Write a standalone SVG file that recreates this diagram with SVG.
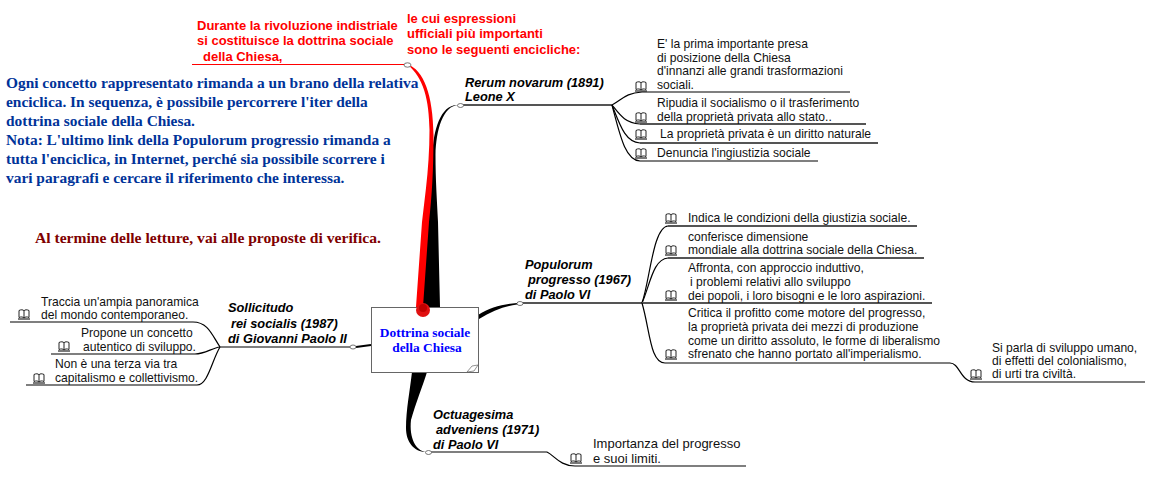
<svg xmlns="http://www.w3.org/2000/svg" width="1156" height="484" viewBox="0 0 1156 484">
<style>
text{font-family:"Liberation Sans",Arial,sans-serif;font-size:12.1px;fill:#111}
.b{font-size:12.8px;font-weight:bold;font-style:italic;fill:#000}
.r{font-size:13px;font-weight:bold;fill:#f00}
.s{font-family:"Liberation Serif","Times New Roman",serif;font-size:15.4px;font-weight:bold;fill:#003399}
.m{font-family:"Liberation Serif","Times New Roman",serif;font-size:15.6px;font-weight:bold;fill:#800000}
.c{font-family:"Liberation Serif","Times New Roman",serif;font-size:13.4px;font-weight:bold;fill:#0000ff;text-anchor:middle}
.l{fill:none;stroke:#000;stroke-width:1.2}
.g{fill:none;stroke:#555;stroke-width:1.8}
.n{fill:#fff;stroke:#555;stroke-width:.8}
.ic{fill:#fff;stroke:#222;stroke-width:1}
.big{font-size:13px}
</style>
<defs>
<g id="book"><path class="ic" d="M1 1.500C3 .5 5 .5 6 1.800C7 .5 9 .5 11 1.500V8.500C9 7.600 7 7.800 6 9C5 7.800 3 7.600 1 8.500ZM6 1.800V9"/><path d="M0 10H12" stroke="#222" stroke-width="1.200" fill="none"/></g>
</defs>
<rect width="1156" height="484" fill="#fff"/>
<g id="connectors">
<path d="M440 307L438 222C437 200 435.500 180 435.500 155C436 130 443 106 458 105C441 104 433 130 432.500 155L430 190L421 307Z" fill="#000"/>
<path d="M416 307L422 222L426 188C428 170 429.500 150 429.500 130C429 100 424 78 407 64C424 70 433 95 433.500 135C433.500 170 432 195 429 222L423 307Z" fill="#f00"/>
<path d="M192 64.500H404" fill="none" stroke="#f00" stroke-width="1.200"/>
<path d="M478 315C490 307 503 304 517 303V304.500C505 306 492 311 479 319Z" fill="#000"/>
<path d="M371 345L356 347" stroke="#000" stroke-width="2" fill="none"/>
<path d="M412 372H427C423 385 415 405 411 420C409 438 416 451 426 452C414 452 406 442 406 428C406 410 410 390 412 372Z" fill="#000"/>
<path class="g" d="M463 105H612"/>
<path class="g" d="M523 303H642"/>
<path class="l" d="M350 347H220"/>
<path class="l" d="M431 452H547"/>
<path class="l" d="M612 105C622 100 625 93 642 92H850"/>
<path class="g" d="M640 124H866"/>
<path class="l" d="M612 105C620 115 625 123 640 124"/>
<path class="g" d="M640 143H878"/>
<path class="l" d="M612 105C620 125 625 142 640 143"/>
<path class="l" d="M612 105C620 135 625 160 640 161H818"/>
<path class="g" d="M668 226H917"/>
<path class="l" d="M642 303C650 280 653 227 668 226"/>
<path class="g" d="M668 258H924"/>
<path class="l" d="M642 303C650 285 653 259 668 258"/>
<path class="g" d="M642 303H932"/>
<path class="l" d="M642 303C650 330 650 363 665 363H950C960 363 960 382 975 382H1145"/>
<path class="l" d="M220 347C212 335 208 322 193 322H10"/>
<path class="l" d="M220 347C212 348 205 354 195 354H51"/>
<path class="l" d="M220 347C212 360 208 385 197 385H26"/>
<path class="l" d="M547 452C555 456 560 466 575 466H746"/>
<ellipse class="n" cx="407.500" cy="65" rx="3.500" ry="2.200"/>
<ellipse class="n" cx="460.500" cy="105.500" rx="3" ry="2"/>
<ellipse class="n" cx="520" cy="303.500" rx="3" ry="2"/>
<ellipse class="n" cx="353" cy="347" rx="3" ry="2"/>
<ellipse class="n" cx="428.500" cy="452.500" rx="3" ry="2"/>
</g>
<g id="node-centre">
<rect x="371.500" y="307.500" width="107" height="65" fill="#fff" stroke="#666"/>
<path d="M467 372L472 366L478 365L474 371Z" fill="#fff" stroke="#666" stroke-width=".7"/>
<circle cx="423" cy="310" r="7" fill="#e01010"/><circle cx="423" cy="308" r="4" fill="#c00000"/>
<text class="c" x="425" y="337">Dottrina sociale</text>
<text class="c" x="427" y="352">della Chiesa</text>
</g>
<g id="note-red-1"><text class="r"><tspan x="197" y="30">Durante la rivoluzione indistriale</tspan><tspan x="197" y="45">si costituisce la dottrina sociale</tspan><tspan x="203" y="61">della Chiesa,</tspan></text></g>
<g id="note-red-2"><text class="r"><tspan x="407" y="23">le cui espressioni</tspan><tspan x="407" y="38">ufficiali più importanti</tspan><tspan x="407" y="54">sono le seguenti encicliche:</tspan></text></g>
<g id="note-blue"><text class="s"><tspan x="6" y="88">Ogni concetto rappresentato rimanda a un brano della relativa</tspan><tspan x="6" y="107">enciclica. In sequenza, è possibile percorrere l'iter della</tspan><tspan x="6" y="126">dottrina sociale della Chiesa.</tspan><tspan x="6" y="145">Nota: L'ultimo link della Populorum progressio rimanda a</tspan><tspan x="6" y="164">tutta l'enciclica, in Internet, perché sia possibile scorrere i</tspan><tspan x="6" y="183">vari paragrafi e cercare il riferimento che interessa.</tspan></text></g>
<g id="note-verifica"><text class="m" x="35" y="243">Al termine delle letture, vai alle proposte di verifica.</text></g>
<g id="rerum"><text class="b"><tspan x="465" y="87">Rerum novarum (1891)</tspan><tspan x="465" y="101">Leone X</tspan></text></g>
<g id="rerum-1"><use href="#book" x="635" y="81"/><text><tspan x="657" y="48">E' la prima importante presa</tspan><tspan x="657" y="62">di posizione della Chiesa</tspan><tspan x="657" y="75">d'innanzi alle grandi trasformazioni</tspan><tspan x="657" y="89">sociali.</tspan></text></g>
<g id="rerum-2"><use href="#book" x="635" y="112"/><text><tspan x="657" y="107">Ripudia il socialismo o il trasferimento</tspan><tspan x="657" y="121">della proprietà privata allo stato..</tspan></text></g>
<g id="rerum-3"><use href="#book" x="635" y="129"/><text x="660" y="138">La proprietà privata è un diritto naturale</text></g>
<g id="rerum-4"><use href="#book" x="635" y="148"/><text x="657" y="157">Denuncia l'ingiustizia sociale</text></g>
<g id="populorum"><text class="b"><tspan x="525" y="269">Populorum</tspan><tspan x="528" y="284">progresso (1967)</tspan><tspan x="525" y="299">di Paolo VI</tspan></text></g>
<g id="pop-1"><use href="#book" x="665" y="213"/><text x="688" y="222">Indica le condizioni della giustizia sociale.</text></g>
<g id="pop-2"><use href="#book" x="665" y="245"/><text><tspan x="688" y="241">conferisce dimensione</tspan><tspan x="688" y="254">mondiale alla dottrina sociale della Chiesa.</tspan></text></g>
<g id="pop-3"><use href="#book" x="665" y="290"/><text><tspan x="688" y="272">Affronta, con approccio induttivo,</tspan><tspan x="690" y="286">i problemi relativi allo sviluppo</tspan><tspan x="688" y="300">dei popoli, i loro bisogni e le loro aspirazioni.</tspan></text></g>
<g id="pop-4"><use href="#book" x="665" y="349"/><text><tspan x="688" y="317">Critica il profitto come motore del progresso,</tspan><tspan x="688" y="331">la proprietà privata dei mezzi di produzione</tspan><tspan x="688" y="345">come un diritto assoluto, le forme di liberalismo</tspan><tspan x="688" y="358">sfrenato che hanno portato all'imperialismo.</tspan></text></g>
<g id="pop-5"><use href="#book" x="970" y="369"/><text><tspan x="992" y="352">Si parla di sviluppo umano,</tspan><tspan x="992" y="365">di effetti del colonialismo,</tspan><tspan x="992" y="378">di urti tra civiltà.</tspan></text></g>
<g id="sollicitudo"><text class="b"><tspan x="228" y="312">Sollicitudo</tspan><tspan x="231" y="328">rei socialis (1987)</tspan><tspan x="228" y="343">di Giovanni Paolo II</tspan></text></g>
<g id="sol-1"><use href="#book" x="18" y="309"/><text><tspan x="41" y="306">Traccia un'ampia panoramica</tspan><tspan x="41" y="319">del mondo contemporaneo.</tspan></text></g>
<g id="sol-2"><use href="#book" x="58" y="341"/><text><tspan x="81" y="337">Propone un concetto</tspan><tspan x="83" y="351">autentico di sviluppo.</tspan></text></g>
<g id="sol-3"><use href="#book" x="33" y="373"/><text><tspan x="55" y="368">Non è una terza via tra</tspan><tspan x="55" y="382">capitalismo e collettivismo.</tspan></text></g>
<g id="octuagesima"><text class="b"><tspan x="433" y="419">Octuagesima</tspan><tspan x="436" y="434">adveniens (1971)</tspan><tspan x="433" y="449">di Paolo VI</tspan></text></g>
<g id="oct-1"><use href="#book" x="570" y="453"/><text class="big"><tspan x="593" y="448">Importanza del progresso</tspan><tspan x="593" y="463">e suoi limiti.</tspan></text></g>
</svg>
